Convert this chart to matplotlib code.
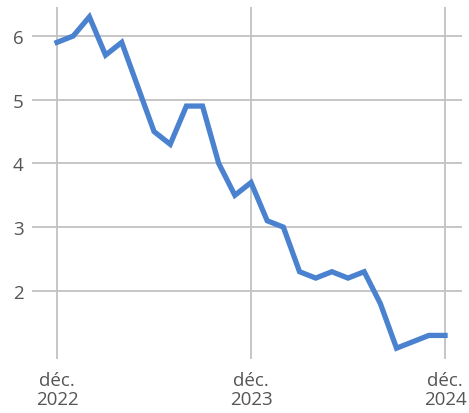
import matplotlib.pyplot as plt
import numpy as np

# taux mensuel, déc. 2022 -> déc. 2024
valeurs = [5.9, 6.0, 6.3, 5.7, 5.9, 5.2, 4.5, 4.3, 4.9, 4.9, 4.0, 3.5, 3.7,
           3.1, 3.0, 2.3, 2.2, 2.3, 2.2, 2.3, 1.8, 1.1, 1.2, 1.3, 1.3]
mois = np.arange(len(valeurs))
pos_ticks = [0, 12, 24]
labels_x = ['déc.\n2022', 'déc.\n2023', 'déc.\n2024']
ticks_y = [2, 3, 4, 5, 6]

plt.rcParams['font.family'] = ['Open Sans', 'DejaVu Sans']

fig = plt.figure(figsize=(4.69, 4.14), dpi=100)
ax = fig.add_axes([32/469, 54/414, 430/469, 352/414])

ax.plot(mois, valeurs, color='#4a82d0', lw=3.8, solid_joinstyle='miter', zorder=3)

ax.set_xlim(-1.55, 25.05)
ax.set_ylim(0.93, 6.455)
ax.set_xticks(pos_ticks)
ax.set_xticklabels(labels_x, linespacing=1.05)
ax.set_yticks(ticks_y)
ax.grid(True, color='#c2c2c2', lw=1.3)
ax.set_axisbelow(True)
for s in ax.spines.values():
    s.set_visible(False)
ax.tick_params(length=0, labelsize=13.5, colors='#555555')
ax.tick_params(axis='x', pad=9)
ax.tick_params(axis='y', pad=6)

fig.savefig('out.png', dpi=100)
